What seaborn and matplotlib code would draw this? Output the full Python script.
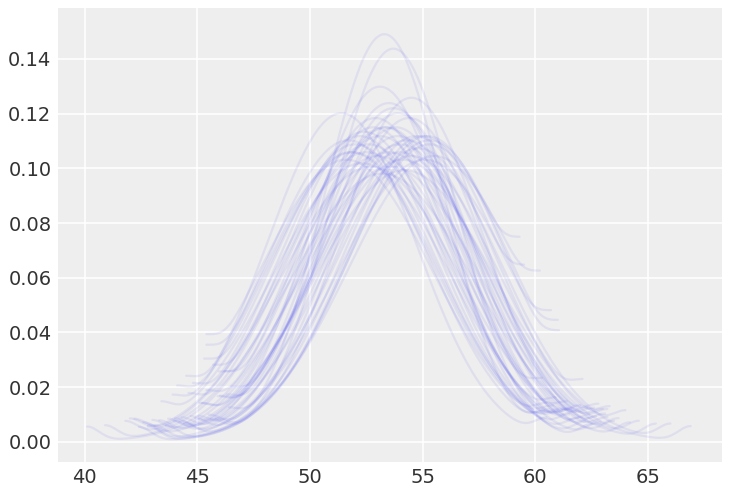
import numpy as np
import pandas as pd
import matplotlib
matplotlib.use("Agg")
import matplotlib.pyplot as plt
import seaborn as sns

# one predictive density per draw: centre, spread and sample range (min / max)
curve_mu = [53.3, 53.7, 53.1, 54.5, 51.4, 55.5, 55.3, 55.0, 55.3, 55.2,
            52.8, 53.5, 54.0, 52.5, 53.9, 54.3, 52.2, 53.0, 54.8, 53.6,
            52.9, 54.1, 53.4, 52.6, 54.4, 53.2, 51.9, 53.8, 54.2, 52.4,
            53.5, 55.1, 52.0, 53.7, 54.7, 52.7, 53.3, 54.0, 51.7, 53.9,
            54.5, 52.3, 53.1, 51.6, 51.8]
curve_sd = [2.6, 2.7, 3.0, 3.1, 3.25, 3.75, 3.55, 3.5, 3.6, 3.5,
            3.4, 3.15, 3.6, 3.7, 3.25, 3.55, 3.5, 3.75, 3.65, 3.9,
            3.3, 3.8, 3.4, 3.6, 3.3, 4.0, 3.7, 3.4, 3.95, 3.45,
            3.7, 3.8, 3.6, 3.2, 3.5, 3.9, 3.4, 3.7, 3.55, 3.5,
            3.75, 3.85, 3.5, 3.8, 3.7]
curve_lo = [46.4, 45.8, 44.7, 45.6, 43.9, 43.1, 42.8, 44.4, 42.4, 43.6,
            45.95, 46.5, 44.0, 42.2, 45.0, 43.95, 44.8, 40.9, 42.8, 40.1,
            46.2, 43.3, 45.2, 44.6, 45.5, 41.8, 44.1, 46.0, 42.6, 45.7,
            43.0, 44.2, 45.3, 46.3, 44.9, 42.0, 45.1, 43.7, 44.5, 45.9,
            44.3, 43.4, 45.4, 45.4, 45.4]
curve_hi = [60.4, 62.5, 62.2, 63.2, 60.5, 60.2, 59.3, 59.5, 61.0, 61.05,
            62.9, 61.8, 63.0, 60.9, 63.5, 64.6, 61.5, 62.0, 66.0, 63.2,
            61.3, 66.9, 62.7, 61.6, 63.7, 65.35, 60.8, 62.3, 64.0, 61.2,
            62.6, 60.7, 61.9, 62.4, 63.3, 64.2, 61.4, 62.8, 60.6, 63.1,
            62.1, 61.7, 60.3, 60.5, 61.0]

x_ticks = [40, 45, 50, 55, 60, 65]
y_ticks = [0.00, 0.02, 0.04, 0.06, 0.08, 0.10, 0.12, 0.14]


def kde_curve(mu, sd, lo, hi, n_obs=280, bw=0.55):
    # density of the draw inside its range, one observation at each extreme,
    # smoothed with a gaussian kernel reflected at both bounds
    g = np.linspace(lo, hi, 300)
    dg = g[1] - g[0]
    w = np.exp(-0.5 * ((g - mu) / sd) ** 2) / (sd * np.sqrt(2 * np.pi)) * dg
    w = w * (1 - 2 / n_obs)
    w[0] += 1 / n_obs
    w[-1] += 1 / n_obs
    x = np.linspace(lo, hi, 300)
    y = np.zeros_like(x)
    for centers in (g, 2 * lo - g, 2 * hi - g):
        k = np.exp(-0.5 * ((x[:, None] - centers[None, :]) / bw) ** 2) / (bw * np.sqrt(2 * np.pi))
        y += k @ w
    return x, y


rows = []
for i, (m, s, lo, hi) in enumerate(zip(curve_mu, curve_sd, curve_lo, curve_hi)):
    x, y = kde_curve(m, s, lo, hi)
    rows.append(pd.DataFrame({"x": x, "density": y, "draw": i}))
df = pd.concat(rows, ignore_index=True)

sns.set_style("darkgrid", {"axes.facecolor": "#eeeeee", "grid.color": "white"})
plt.rcParams["font.family"] = ["DejaVu Sans"]

fig, ax = plt.subplots(figsize=(7.31, 4.91), dpi=100)
fig.subplots_adjust(left=0.079, right=0.988, top=0.983, bottom=0.059)

sns.lineplot(data=df, x="x", y="density", units="draw", estimator=None,
             color="#2a2eec", alpha=0.08, linewidth=1.6, ax=ax, sort=False)

ax.set_xlim(38.8, 68.3)
ax.set_ylim(-0.0074, 0.1585)
ax.set_xticks(x_ticks)
ax.set_yticks(y_ticks)
ax.set_yticklabels([f"{v:.2f}" for v in y_ticks])
ax.set_xlabel("")
ax.set_ylabel("")
ax.tick_params(labelsize=14, colors="#333333", length=0, pad=4.5)
ax.grid(True, color="white", linewidth=1.1)
for sp in ax.spines.values():
    sp.set_visible(False)

fig.savefig("out.png", dpi=100, facecolor="white")
